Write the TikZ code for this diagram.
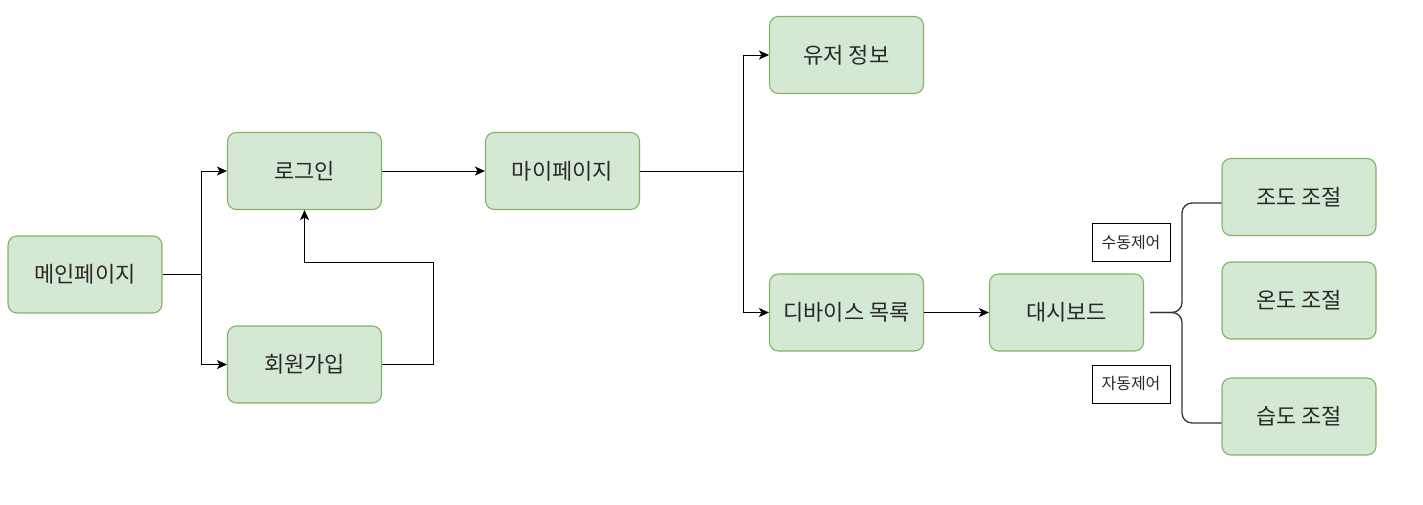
\documentclass[tikz,border=0pt]{standalone}
\usepackage{fontspec}
\setmainfont{Noto Sans CJK KR}
\usetikzlibrary{arrows.meta}
\definecolor{gfill}{HTML}{D5E8D4}
\definecolor{gline}{HTML}{82B366}
\definecolor{txt}{HTML}{2A2A2A}
\tikzset{
  box/.style={draw=gline, fill=gfill, line width=1.1pt, rounded corners=9pt,
    minimum width=154pt, minimum height=77pt, inner sep=0pt, text=txt,
    font=\fontsize{22pt}{26pt}\selectfont},
  tag/.style={draw=black, fill=white, line width=0.9pt, minimum width=78pt,
    minimum height=38pt, inner sep=0pt, text=txt,
    font=\fontsize{16pt}{19pt}\selectfont},
  conn/.style={draw=black, line width=1pt, -{Stealth[length=10pt,width=9pt,inset=2.5pt]}},
  bracel/.style={draw=black!80, line width=1.3pt, rounded corners=10pt},
}
\begin{document}
\begin{tikzpicture}[x=1pt,y=-1pt]
\useasboundingbox (0,0) rectangle (1423,504);
\node[box] (main) at (85,274.5) {메인페이지};
\node[box] (login) at (304.5,171) {로그인};
\node[box] (join) at (304.5,364.5) {회원가입};
\node[box] (my) at (562.5,171) {마이페이지};
\node[box] (user) at (846.5,55) {유저 정보};
\node[box] (dev) at (846.5,312.5) {디바이스 목록};
\node[box] (dash) at (1066.5,312.5) {대시보드};
\node[box] (lux) at (1299,197) {조도 조절};
\node[box] (temp) at (1299,300.5) {온도 조절};
\node[box] (hum) at (1299,416.5) {습도 조절};
\node[tag] (manual) at (1131,242.5) {수동제어};
\node[tag] (auto) at (1131,384) {자동제어};
\coordinate (s1) at (201,274.5);
\coordinate (jc) at (433,262);
\coordinate (s2) at (743,171);
\coordinate (bs) at (1150,312.5);
\coordinate (bt) at (1182,203);
\coordinate (bb) at (1182,423);
\draw[conn] (main.east) -- (s1) |- (login.west);
\draw[conn] (s1) |- (join.west);
\draw[conn] (join.east) -| (jc) -| (login.south);
\draw[conn] (login.east) -- (my.west);
\draw[conn] (my.east) -- (s2) |- (user.west);
\draw[conn] (s2) |- (dev.west);
\draw[conn] (dev.east) -- (dash.west);
\draw[bracel] (bs) -| (bt) -- (bt -| lux.west);
\draw[bracel] (bs) -| (bb) -- (bb -| hum.west);
\end{tikzpicture}
\end{document}
